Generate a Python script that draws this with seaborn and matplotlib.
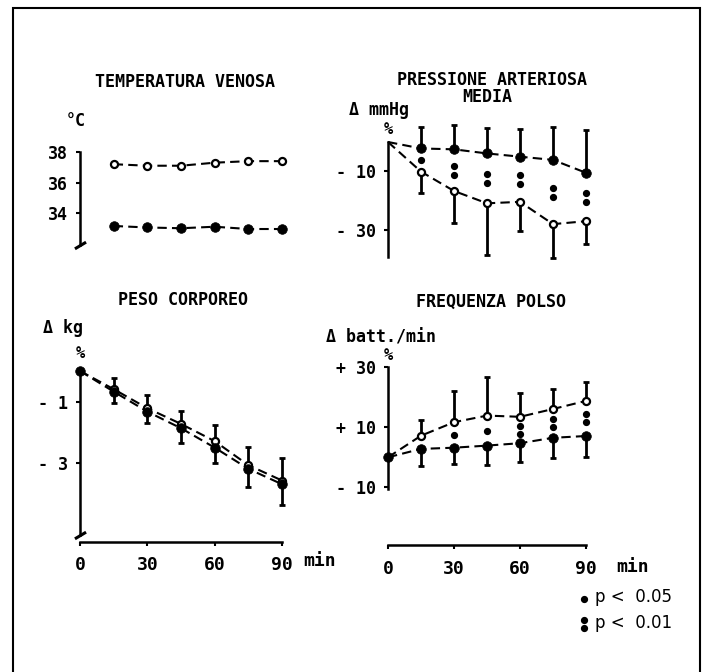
import numpy as np
import pandas as pd
import matplotlib as mpl
import matplotlib.pyplot as plt
import matplotlib.transforms as mtransforms
from matplotlib.lines import Line2D
from matplotlib.patches import Rectangle
import seaborn as sns

# --- data ---
TIME = [15, 30, 45, 60, 75, 90]
TIME0 = [0, 15, 30, 45, 60, 75, 90]

# temperatura venosa (°C)
temp_open = [37.2, 37.1, 37.1, 37.3, 37.4, 37.4]
temp_filled = [33.15, 33.05, 33.0, 33.1, 32.95, 32.95]

# pressione arteriosa media (delta %)
pam_open = [0, -10.1, -16.7, -20.9, -20.4, -28.0, -27.0]
pam_open_err = [0, 7.2, 11.0, 17.7, 9.9, 11.4, 7.9]
pam_filled = [0, -2.2, -2.5, -3.9, -5.0, -6.1, -10.5]
pam_filled_err = [0, 7.2, 8.3, 8.8, 9.3, 11.1, 14.6]
pam_sig = [0, 1, 2, 2, 2, 2, 2]

# peso corporeo (delta %)
peso_open = [0, -0.59, -1.21, -1.72, -2.28, -3.06, -3.56]
peso_open_err = [0, 0.35, 0.43, 0.42, 0.52, 0.58, 0.72]
peso_filled = [0, -0.67, -1.32, -1.86, -2.49, -3.18, -3.68]
peso_filled_err = [0, 0.38, 0.38, 0.49, 0.51, 0.58, 0.67]

# frequenza polso (delta %)
polso_open = [0, 7.2, 11.7, 13.9, 13.5, 16.1, 18.8]
polso_open_err = [0, 5.2, 10.4, 12.8, 7.8, 6.7, 6.2]
polso_filled = [0, 2.8, 3.2, 3.9, 4.7, 6.5, 7.1]
polso_filled_err = [0, 5.6, 5.4, 6.5, 6.2, 6.8, 7.1]
polso_sig = [0, 0, 1, 1, 2, 2, 2]

XTICKS = [0, 30, 60, 90]
TEMP_TICKS, TEMP_LABELS = [38, 36, 34], ["38", "36", "34"]
PAM_TICKS, PAM_LABELS = [-10, -30], ["- 10", "- 30"]
PESO_TICKS, PESO_LABELS = [-1, -3], ["- 1", "- 3"]
POLSO_TICKS, POLSO_LABELS = [30, 10, -10], ["+ 30", "+ 10", "- 10"]

W, H = 710, 672
MONO = "DejaVu Sans Mono"

sns.set_theme(style="white")
plt.rcParams["font.family"] = [MONO, "DejaVu Sans"]
plt.rcParams.update({
    "font.weight": "bold",
    "text.color": "black",
    "xtick.color": "black",
    "ytick.color": "black",
    "axes.labelcolor": "black",
})

fig = plt.figure(figsize=(W / 100, H / 100), dpi=100, facecolor="white")


def ftext(x, y, s, **kw):
    kw.setdefault("ha", "center")
    kw.setdefault("va", "center")
    kw.setdefault("fontsize", 12)
    kw.setdefault("fontweight", "bold")
    fig.text(x / W, 1 - y / H, s, color="black", **kw)


def add_panel(x0, x90, ya, pya, yb, pyb, xlim, ylim):
    # place axes so that data values land where they sit in the scan
    sx = (x90 - x0) / 90
    sy = (pyb - pya) / (ya - yb)
    left = x0 + xlim[0] * sx
    width = (xlim[1] - xlim[0]) * sx
    top = pya - (ylim[1] - ya) * sy
    height = (ylim[1] - ylim[0]) * sy
    ax = fig.add_axes([left / W, 1 - (top + height) / H, width / W, height / H])
    ax.set_xlim(*xlim)
    ax.set_ylim(*ylim)
    ax.patch.set_alpha(0)
    for s in ax.spines.values():
        s.set_visible(False)
    ax.spines["left"].set_visible(True)
    ax.spines["left"].set_position(("data", 0))
    ax.spines["left"].set_linewidth(1.8)
    ax.spines["left"].set_color("black")
    ax.tick_params(axis="y", direction="out", length=3, width=1.5, color="black",
                   labelsize=12, labelcolor="black", pad=6, left=True)
    ax.set_xticks([])
    ax.grid(False)
    return ax


def xaxis(ax, pad):
    ax.spines["bottom"].set_visible(True)
    ax.spines["bottom"].set_linewidth(1.8)
    ax.spines["bottom"].set_color("black")
    ax.spines["bottom"].set_bounds(0, 90)
    ax.set_xticks(XTICKS)
    ax.set_xticklabels([str(v) for v in XTICKS])
    ax.tick_params(axis="x", direction="out", length=3, width=1.5, color="black",
                   labelsize=13, labelcolor="black", pad=pad, bottom=True)


def series(ax, t, v, filled, start_marker=True):
    sns.lineplot(x=t, y=v, ax=ax, color="black", lw=1.5,
                 linestyle=(0, (4.5, 2.5)), errorbar=None)
    tt, vv = (t, v) if start_marker else (t[1:], v[1:])
    if filled:
        sns.scatterplot(x=tt, y=vv, ax=ax, color="black", s=48,
                        edgecolor="black", linewidth=0.5, zorder=4, clip_on=False)
    else:
        sns.scatterplot(x=tt, y=vv, ax=ax, color="white", s=26,
                        edgecolor="black", linewidth=1.6, zorder=4, clip_on=False)


def bars(ax, t, v, err, up):
    t, v, err = np.asarray(t[1:]), np.asarray(v[1:]), np.asarray(err[1:])
    zero = np.zeros_like(err)
    yerr = [zero, err] if up else [err, zero]
    ax.errorbar(t, v, yerr=yerr, fmt="none", ecolor="black", elinewidth=2,
                capsize=2.5, capthick=2, zorder=3, clip_on=False)


def sig_dots(ax, t, a, b, levels, gap):
    mid = (np.asarray(a) + np.asarray(b)) / 2
    for ti, m, lv in zip(t, mid, levels):
        offs = {0: [], 1: [0], 2: [-gap / 2, gap / 2]}[lv]
        for o in offs:
            tr = mtransforms.offset_copy(ax.transData, fig=fig, y=o, units="dots")
            ax.plot(ti, m, "o", color="black", ms=4.2, transform=tr, zorder=5)


def axis_break(ax, y):
    ax.plot(0, y, marker=[(-1, -0.6), (1, 0.6)], ms=8, mew=2.2,
            color="black", clip_on=False, zorder=5)


# --- TEMPERATURA VENOSA ---
ax1 = add_panel(80, 282, 38, 152, 34, 213, (-4, 94), (31.9, 38.4))
ax1.spines["left"].set_bounds(31.9, 38)
ax1.set_yticks(TEMP_TICKS)
ax1.set_yticklabels(TEMP_LABELS)
series(ax1, TIME, temp_open, filled=False)
series(ax1, TIME, temp_filled, filled=True)
axis_break(ax1, 31.9)

# --- PRESSIONE ARTERIOSA MEDIA ---
ax2 = add_panel(388, 586, 0, 142, -30, 230, (-4, 94), (-39.4, 8))
ax2.spines["left"].set_bounds(-39.3, 0)
ax2.set_yticks(PAM_TICKS)
ax2.set_yticklabels(PAM_LABELS)
bars(ax2, TIME0, pam_filled, pam_filled_err, up=True)
bars(ax2, TIME0, pam_open, pam_open_err, up=False)
series(ax2, TIME0, pam_filled, filled=True, start_marker=False)
series(ax2, TIME0, pam_open, filled=False, start_marker=False)
sig_dots(ax2, TIME0, pam_open, pam_filled, pam_sig, gap=9)

# --- PESO CORPOREO ---
ax3 = add_panel(80, 282, 0, 371, -3, 463.3, (-4, 94), (-5.56, 0.8))
ax3.spines["left"].set_bounds(-5.33, 0)
ax3.set_yticks(PESO_TICKS)
ax3.set_yticklabels(PESO_LABELS)
xaxis(ax3, pad=7)
bars(ax3, TIME0, peso_open, peso_open_err, up=True)
bars(ax3, TIME0, peso_filled, peso_filled_err, up=False)
series(ax3, TIME0, peso_open, filled=False, start_marker=False)
series(ax3, TIME0, peso_filled, filled=True)
axis_break(ax3, -5.33)

# --- FREQUENZA POLSO ---
ax4 = add_panel(388, 586, 30, 367.3, -10, 487.3, (-4, 94), (-29.2, 31))
ax4.spines["left"].set_bounds(-10.7, 30)
ax4.set_yticks(POLSO_TICKS)
ax4.set_yticklabels(POLSO_LABELS)
xaxis(ax4, pad=8)
bars(ax4, TIME0, polso_open, polso_open_err, up=True)
bars(ax4, TIME0, polso_filled, polso_filled_err, up=False)
series(ax4, TIME0, polso_open, filled=False, start_marker=False)
series(ax4, TIME0, polso_filled, filled=True)
sig_dots(ax4, TIME0, polso_open, polso_filled, polso_sig, gap=8)

# --- titles and unit labels ---
ftext(185, 82, "TEMPERATURA VENOSA")
ftext(492, 80, "PRESSIONE ARTERIOSA")
ftext(487, 97, "MEDIA")
ftext(183, 300, "PESO CORPOREO")
ftext(491, 302, "FREQUENZA POLSO")

ftext(76, 121, "°C")
ftext(409, 110, "Δ mmHg", ha="right")
ftext(388, 130, "%", fontsize=11)
ftext(43, 328, "Δ kg", ha="left")
ftext(80, 353, "%", fontsize=11)
ftext(436, 337, "Δ batt./min", ha="right")
ftext(388, 356, "%", fontsize=11)
ftext(320, 561, "min", fontsize=13)
ftext(633, 567, "min", fontsize=13)

# significance key
ftext(595, 597, "p <  0.05", ha="left", fontsize=12, fontweight="normal", family="DejaVu Sans")
ftext(595, 623, "p <  0.01", ha="left", fontsize=12, fontweight="normal", family="DejaVu Sans")
for px, py in [(584, 599), (584, 620), (584, 628)]:
    fig.add_artist(Line2D([px / W], [1 - py / H], marker="o", ms=4.2,
                          color="black", transform=fig.transFigure))

# frame around the figure (bottom edge runs off the scan)
fig.add_artist(Rectangle((13 / W, -0.05), (700 - 13) / W, 1.05 - 8 / H,
                         transform=fig.transFigure, fill=False,
                         edgecolor="black", linewidth=1.5))

fig.savefig("out.png", dpi=100, facecolor="white")
